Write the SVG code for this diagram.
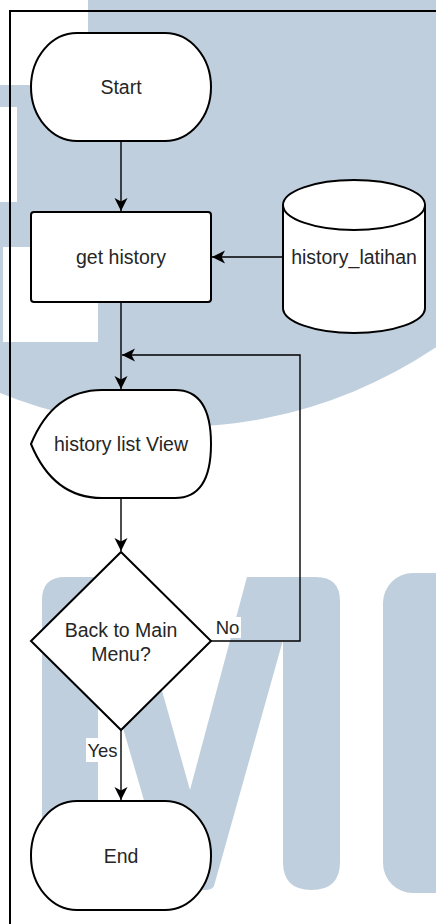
<svg xmlns="http://www.w3.org/2000/svg" width="436" height="924" viewBox="0 0 436 924">
  <style>
    .wm { fill: #bfcfdd; }
    .cut { fill: #ffffff; }
    .node { fill: #ffffff; stroke: #000000; stroke-width: 2; }
    .edge { fill: none; stroke: #000000; stroke-width: 1.4; }
    .lbl { font-family: "Liberation Sans", Arial, sans-serif; font-size: 19.5px; fill: #262626; text-anchor: middle; }
    .elbl { font-family: "Liberation Sans", Arial, sans-serif; font-size: 18.5px; fill: #262626; text-anchor: middle; }
  </style>
  <defs>
    <marker id="arrow" markerUnits="userSpaceOnUse" markerWidth="16" markerHeight="16" viewBox="-15 -8 16 16" refX="0" refY="0" orient="auto">
      <path d="M0,0 L-13,-6.5 L-9.5,0 L-13,6.5 Z" fill="#000000"/>
    </marker>
  </defs>

  <rect width="436" height="924" fill="#ffffff"/>

  <!-- watermark artwork behind the chart -->
  <g id="watermark">
    <circle class="wm" cx="175" cy="-40" r="467"/>
    <rect class="cut" x="0" y="0" width="88" height="85"/>
    <rect class="cut" x="0" y="107" width="17" height="95"/>
    <rect class="cut" x="3" y="247" width="95" height="95"/>
    <path class="wm" d="M42,600 Q42,577 65,577 L130,577 L190,790 L247,577 L316,577 Q340,577 340,601 L340,862 Q340,890 311.5,890 Q283,890 283,862 L283,640 L214,886 Q212,890 205,890 L170,890 L98,642 L98,862 Q98,890 70,890 Q42,890 42,862 Z"/>
    <rect class="wm" x="383" y="573" width="120" height="320" rx="30" ry="30"/>
  </g>

  <!-- outer frame -->
  <rect x="10" y="11" width="520" height="1000" fill="none" stroke="#000000" stroke-width="2"/>

  <!-- connectors -->
  <g id="connectors">
    <line class="edge" x1="121" y1="141" x2="121" y2="211" marker-end="url(#arrow)"/>
    <line class="edge" x1="283" y1="257" x2="212" y2="257" marker-end="url(#arrow)"/>
    <line class="edge" x1="121" y1="302" x2="121" y2="389" marker-end="url(#arrow)"/>
    <line class="edge" x1="121" y1="498" x2="121" y2="551" marker-end="url(#arrow)"/>
    <polyline class="edge" points="211,641 300,641 300,355 122,355" marker-end="url(#arrow)"/>
    <line class="edge" x1="121" y1="730" x2="121" y2="800" marker-end="url(#arrow)"/>
    <g id="label-no">
      <rect x="213" y="617" width="28" height="21" fill="#ffffff"/>
      <text class="elbl" x="227.5" y="634">No</text>
    </g>
    <g id="label-yes">
      <rect x="86" y="738" width="33" height="24" fill="#ffffff"/>
      <text class="elbl" x="102.5" y="757">Yes</text>
    </g>
  </g>

  <!-- nodes -->
  <g id="start">
    <rect class="node" x="31" y="33" width="180" height="108" rx="46" ry="54"/>
    <text class="lbl" x="121" y="94">Start</text>
  </g>

  <g id="get-history">
    <rect class="node" x="31" y="212" width="180" height="90" rx="3" ry="3"/>
    <text class="lbl" x="121" y="264">get history</text>
  </g>

  <g id="history-latihan">
    <path class="node" d="M283,205 A71,25 0 0 1 425,205 L425,308 A71,25 0 0 1 283,308 Z"/>
    <path class="node" fill="none" d="M283,205 A71,25 0 0 0 425,205"/>
    <text class="lbl" x="354" y="264">history_latihan</text>
  </g>

  <g id="history-list-view">
    <path class="node" d="M31,444 C45,410 68,390 102,390 L175,390 Q211,390 211,444 Q211,498 175,498 L102,498 C68,498 45,478 31,444 Z"/>
    <text class="lbl" x="121" y="451">history list View</text>
  </g>

  <g id="back-to-main-menu">
    <path class="node" d="M121,552 L211,641 L121,730 L31,641 Z"/>
    <text class="lbl" x="121" y="637">Back to Main</text>
    <text class="lbl" x="121" y="661">Menu?</text>
  </g>

  <g id="end">
    <rect class="node" x="31" y="801" width="180" height="109" rx="46" ry="54"/>
    <text class="lbl" x="121" y="863">End</text>
  </g>
</svg>
